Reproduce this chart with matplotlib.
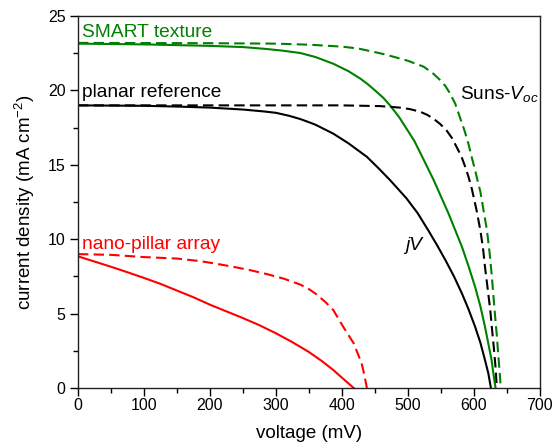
import matplotlib
matplotlib.use('Agg')
import matplotlib.pyplot as plt
from matplotlib.ticker import MultipleLocator

plt.rcParams['font.family'] = ['Liberation Sans', 'DejaVu Sans']
plt.rcParams['mathtext.fontset'] = 'custom'
plt.rcParams['mathtext.rm'] = 'Liberation Sans'
plt.rcParams['mathtext.it'] = 'Liberation Sans:italic'

# SMART texture
smart_jv_v = [0, 100, 200, 250, 286, 310, 337, 360, 387, 410, 428, 440, 453, 463, 473, 487, 500,
              510, 519, 529, 539, 550, 562, 572, 582, 592, 602, 610, 617, 622, 627, 630, 633]
smart_jv_j = [23.15, 23.1, 23.0, 22.92, 22.79, 22.68, 22.52, 22.25, 21.8, 21.3, 20.8, 20.4, 19.9, 19.5, 19.0, 18.2, 17.3,
              16.6, 15.8, 14.9, 14.0, 12.9, 11.7, 10.6, 9.5, 8.2, 6.8, 5.5, 4.12, 3.0, 1.88, 0.9, 0]
smart_suns_v = [0, 200, 300, 350, 400, 425, 448, 463, 480, 500, 512, 524, 537, 549, 557, 564, 572, 579,
                586, 592, 597, 602, 606, 610, 615, 620, 624, 627, 630, 632, 635, 637, 639, 641]
smart_suns_j = [23.2, 23.18, 23.15, 23.08, 22.95, 22.82, 22.6, 22.45, 22.25, 22.0, 21.8, 21.6, 21.2, 20.7, 20.3, 19.8, 19.1, 18.2,
                17.3, 16.4, 15.5, 14.65, 13.9, 13.2, 11.9, 10.6, 9.1, 7.7, 6.1, 5.0, 3.5, 2.3, 1.2, 0]

# planar reference
planar_jv_v = [0, 100, 150, 200, 250, 280, 300, 320, 337, 350, 360, 387, 410, 438, 455, 473, 498, 515, 531, 545,
               557, 570, 582, 592, 602, 610, 617, 622, 626]
planar_jv_j = [19.0, 18.97, 18.92, 18.85, 18.72, 18.6, 18.5, 18.3, 18.08, 17.87, 17.7, 17.1, 16.45, 15.54, 14.8, 13.98, 12.75, 11.75, 10.6, 9.55,
               8.6, 7.5, 6.36, 5.3, 4.12, 3.05, 1.88, 1.0, 0]
planar_suns_v = [0, 300, 400, 458, 488, 503, 519, 530, 539, 549, 559, 567, 574, 581, 587, 592, 597,
                 604, 610, 614, 617, 621, 625, 628, 630, 633, 635]
planar_suns_j = [19.0, 19.0, 19.0, 18.95, 18.85, 18.75, 18.57, 18.35, 18.1, 17.75, 17.3, 16.8, 16.2, 15.6, 14.87, 14.2, 13.4,
                 12.0, 10.6, 9.4, 8.15, 6.7, 5.24, 3.8, 2.9, 1.4, 0]

# nano-pillar array
nano_jv_v = [0, 25, 50, 75, 100, 125, 150, 175, 200, 225, 250, 275, 300, 325, 350, 370, 387, 405, 418]
nano_jv_j = [8.85, 8.5, 8.15, 7.78, 7.4, 7.0, 6.55, 6.1, 5.6, 5.15, 4.7, 4.22, 3.68, 3.08, 2.42, 1.8, 1.21, 0.5, 0]
nano_suns_v = [0, 50, 100, 150, 185, 210, 235, 260, 286, 312, 337, 350, 362, 375, 387, 395, 402, 410, 418, 424, 430, 434, 438]
nano_suns_j = [9.0, 8.95, 8.8, 8.7, 8.53, 8.35, 8.15, 7.93, 7.66, 7.35, 6.95, 6.65, 6.28, 5.78, 5.24, 4.64, 4.12, 3.56, 3.0, 2.33, 1.66, 0.9, 0]

green = '#008000'
red = '#ff0000'
dash = (0, (5, 2.5))

fig = plt.figure(figsize=(5.53, 4.48), dpi=100)
ax = fig.add_axes([0.141, 0.134, 0.835, 0.830])

ax.plot(smart_suns_v, smart_suns_j, color=green, lw=1.5, ls=dash)
ax.plot(smart_jv_v, smart_jv_j, color=green, lw=1.5)
ax.plot(planar_suns_v, planar_suns_j, color='black', lw=1.5, ls=dash)
ax.plot(planar_jv_v, planar_jv_j, color='black', lw=1.5)
ax.plot(nano_suns_v, nano_suns_j, color=red, lw=1.5, ls=dash)
ax.plot(nano_jv_v, nano_jv_j, color=red, lw=1.5)

ax.set_xlim(0, 700)
ax.set_ylim(0, 25)
ax.xaxis.set_major_locator(MultipleLocator(100))
ax.xaxis.set_minor_locator(MultipleLocator(50))
ax.yaxis.set_major_locator(MultipleLocator(5))
ax.yaxis.set_minor_locator(MultipleLocator(2.5))
ax.tick_params(which='major', direction='out', length=5.5, width=1, labelsize=11.5)
ax.tick_params(axis='x', which='major', pad=1.5)
ax.tick_params(which='minor', direction='out', length=3.5, width=1)
for s in ax.spines.values():
    s.set_linewidth(1.0)
    s.set_color('#222222')

ax.set_xlabel('voltage (mV)', fontsize=13.5, labelpad=9)
ax.set_ylabel(r'current density (mA cm$^{-2}$)', fontsize=13.5, labelpad=8)

ax.text(6, 23.6, 'SMART texture', color=green, fontsize=13.8, va='baseline')
ax.text(6, 19.58, 'planar reference', color='black', fontsize=13.8, va='baseline')
ax.text(6, 9.32, 'nano-pillar array', color=red, fontsize=13.8, va='baseline')
ax.text(579, 19.42, r'Suns-$V_{oc}$', color='black', fontsize=13.8, va='baseline')
ax.text(496, 9.27, 'jV', color='black', fontsize=13.8, va='baseline', style='italic')

fig.savefig('out.png', dpi=100)
